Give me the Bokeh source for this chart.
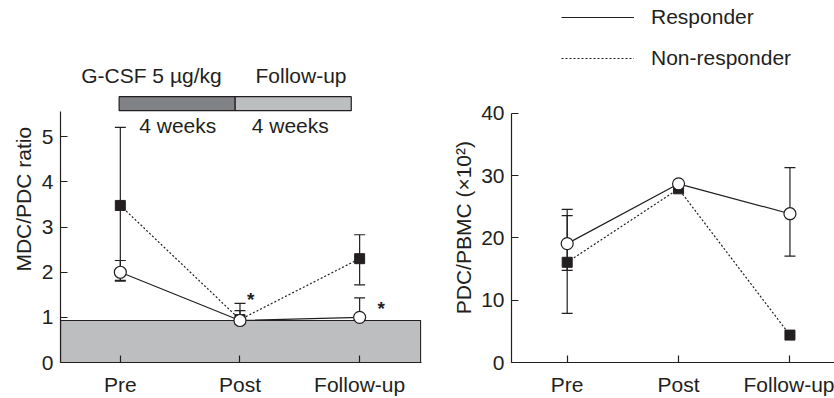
import math
from bokeh.plotting import figure
from bokeh.layouts import row
from bokeh.models import (Range1d, FixedTicker, Whisker, TeeHead, ColumnDataSource,
                          Legend, LegendItem)
from bokeh.core.properties import value
from bokeh.embed import file_html
from bokeh.resources import INLINE

# ---------------- data ----------------
categories = ["Pre", "Post", "Follow-up"]

# Left panel: MDC/PDC ratio
ratio_resp = [2.0, 0.93, 1.0]
ratio_resp_lo = [1.82, 0.62, 0.62]
ratio_resp_hi = [2.26, 1.31, 1.43]
ratio_non = [3.48, 0.95, 2.30]
ratio_non_lo = [1.80, 0.84, 1.72]
ratio_non_hi = [5.21, 1.15, 2.83]
normal_band_top = 0.93
left_yticks = [0, 1, 2, 3, 4, 5]

# Right panel: PDC/PBMC (x10^2)
pdc_resp = [19.1, 28.7, 23.9]
pdc_resp_lo = [14.8, None, 17.1]
pdc_resp_hi = [23.6, None, 31.3]
pdc_non = [16.1, 27.9, 4.4]
pdc_non_lo = [7.9, None, None]
pdc_non_hi = [24.6, None, None]
right_yticks = [0, 10, 20, 30, 40]

# ---------------- styles ----------------
INK = "#231f20"
FONT = "Liberation Sans"
FS = "21px"
DARK_BAR = "#808285"
LIGHT_GRAY = "#bcbec0"
H = 398

xs = list(range(len(categories)))
labels = {i: c for i, c in enumerate(categories)}


def style_axes(p, yticks, ybound):
    p.xaxis.ticker = FixedTicker(ticks=xs)
    p.xaxis.major_label_overrides = labels
    p.yaxis.ticker = FixedTicker(ticks=yticks)
    p.yaxis.bounds = (0, ybound)
    for ax in (p.xaxis[0], p.yaxis[0]):
        ax.axis_line_color = INK
        ax.axis_line_width = 1.2
        ax.major_tick_line_color = INK
        ax.major_tick_line_width = 1.2
        ax.major_tick_in = 7
        ax.major_tick_out = 0
        ax.minor_tick_line_color = None
        ax.major_label_text_font = FONT
        ax.major_label_text_font_size = FS
        ax.major_label_text_color = INK
    p.xaxis.major_label_standoff = 10
    p.yaxis.major_label_standoff = 7
    p.xgrid.grid_line_color = None
    p.ygrid.grid_line_color = None
    p.outline_line_color = None


def label_panel(text, width, cx, y_bottom):
    """Narrow figure holding a rotated y-axis title (pixel coordinates)."""
    q = figure(width=width, height=H, output_backend="svg", toolbar_location=None,
               x_axis_type=None, y_axis_type=None,
               x_range=Range1d(0, width), y_range=Range1d(0, H),
               min_border=0, min_border_left=0, min_border_right=0,
               min_border_top=0, min_border_bottom=0)
    q.grid.grid_line_color = None
    q.outline_line_color = None
    q.background_fill_color = None
    q.border_fill_color = None
    q.text(x=[cx], y=[H - y_bottom], text=[text], angle=math.pi / 2,
           text_font=value(FONT), text_font_size=FS, text_color=INK,
           text_align="left", text_baseline="middle")
    return q


def add_whiskers(p, lo, hi):
    bx, blo, bhi = [], [], []
    for x, l, h in zip(xs, lo, hi):
        if l is not None and h is not None:
            bx.append(x); blo.append(l); bhi.append(h)
    src = ColumnDataSource(dict(x=bx, lower=blo, upper=bhi))
    w = Whisker(base="x", lower="lower", upper="upper", source=src,
                line_color=INK, line_width=1.2,
                upper_head=TeeHead(size=11, line_color=INK, line_width=1.2),
                lower_head=TeeHead(size=11, line_color=INK, line_width=1.2))
    p.add_layout(w)


def add_series(p, resp, non):
    rn = p.line(xs, non, line_color=INK, line_width=1.2, line_dash="2 2")
    rr = p.line(xs, resp, line_color=INK, line_width=1.2)
    p.scatter(xs, non, marker="square", size=10, fill_color=INK, line_color=INK)
    p.scatter(xs, resp, marker="circle", size=12, fill_color="white",
              line_color=INK, line_width=1.2)
    return rr, rn


# ---------------- y-axis titles ----------------
lab1 = label_panel("MDC/PDC ratio", 38, 23, 298)
lab2 = label_panel("PDC/PBMC (×10²)", 38, 23, 345)

# ---------------- left figure ----------------
p1 = figure(width=402, height=H, output_backend="svg", toolbar_location=None,
            x_range=Range1d(-0.5, 2.517), y_range=Range1d(0, 8.02),
            min_border_left=21, min_border_right=19, min_border_top=0,
            min_border_bottom=36)
p1.background_fill_color = None
p1.border_fill_color = None
style_axes(p1, left_yticks, 5.55)

# normal range band
p1.quad(left=[-0.5], right=[2.51], bottom=[0], top=[normal_band_top],
        fill_color=LIGHT_GRAY, line_color=INK, line_width=1.2)

# treatment schedule bar
p1.quad(left=[-0.01], right=[0.96], bottom=[5.58], top=[5.89],
        fill_color=DARK_BAR, line_color=INK, line_width=1.2)
p1.quad(left=[0.96], right=[1.93], bottom=[5.58], top=[5.89],
        fill_color=LIGHT_GRAY, line_color=INK, line_width=1.2)
p1.text(x=[0.26, 1.51], y=[6.36, 6.36], text=["G-CSF 5 µg/kg", "Follow-up"],
        text_font=value(FONT), text_font_size=FS, text_color=INK,
        text_align="center", text_baseline="middle")
p1.text(x=[0.48, 1.42], y=[5.25, 5.25], text=["4 weeks", "4 weeks"],
        text_font=value(FONT), text_font_size=FS, text_color=INK,
        text_align="center", text_baseline="middle")

add_whiskers(p1, ratio_non_lo, ratio_non_hi)
add_whiskers(p1, ratio_resp_lo, ratio_resp_hi)
add_series(p1, ratio_resp, ratio_non)

p1.text(x=[1.09, 2.18], y=[1.40, 1.20], text=["*", "*"],
        text_font=value(FONT), text_font_size="19px", text_font_style="bold",
        text_color=INK, text_align="center", text_baseline="middle")

# ---------------- right figure ----------------
p2 = figure(width=356, height=H, output_backend="svg", toolbar_location=None,
            x_range=Range1d(-0.5, 2.40), y_range=Range1d(0, 58.15),
            min_border_left=31, min_border_right=0, min_border_top=0,
            min_border_bottom=36)
p2.background_fill_color = None
p2.border_fill_color = None
style_axes(p2, right_yticks, 40)

add_whiskers(p2, pdc_non_lo, pdc_non_hi)
add_whiskers(p2, pdc_resp_lo, pdc_resp_hi)
rr, rn = add_series(p2, pdc_resp, pdc_non)

legend = Legend(items=[LegendItem(label="Responder", renderers=[rr]),
                       LegendItem(label="Non-responder", renderers=[rn])],
                location=(50, 292), orientation="vertical",
                glyph_width=73, glyph_height=20, label_height=20,
                label_standoff=17, spacing=17, padding=0, margin=0,
                border_line_color=None, background_fill_alpha=0,
                label_text_font=FONT, label_text_font_size=FS,
                label_text_color=INK)
p2.add_layout(legend)

layout = row(lab1, p1, lab2, p2)
open("out.html", "w").write(file_html(layout, INLINE))
